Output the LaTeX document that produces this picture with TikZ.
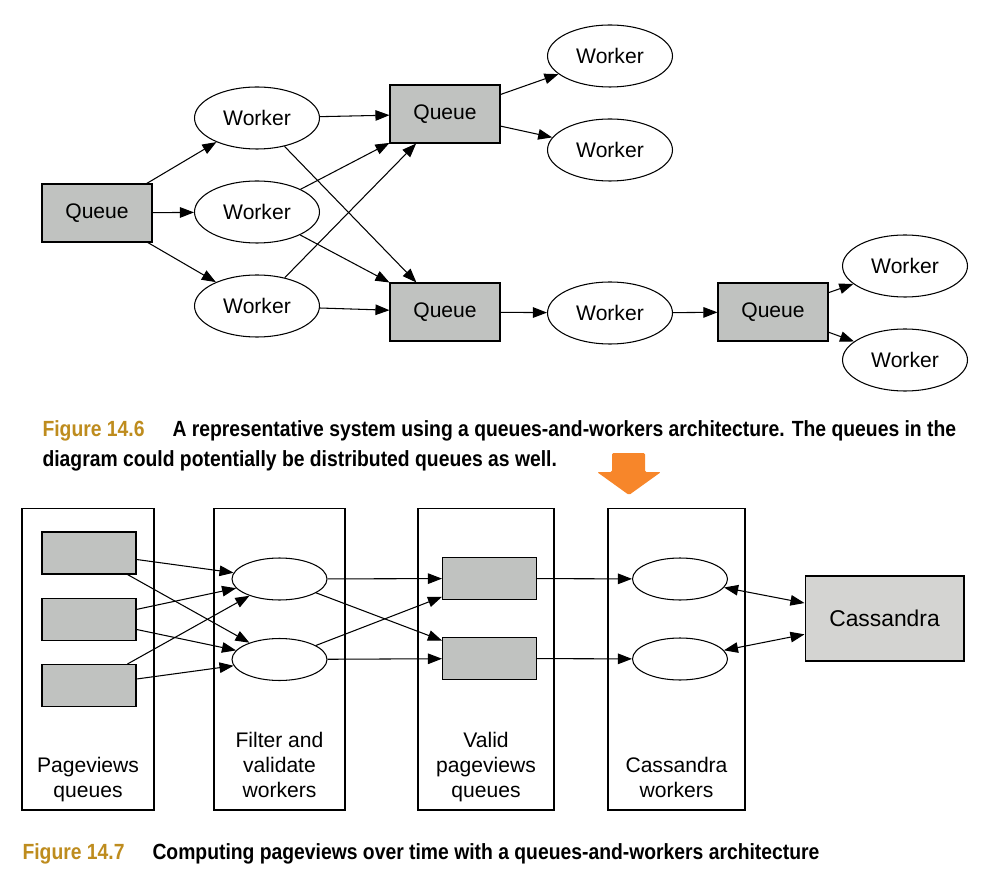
\documentclass[tikz,border=0pt]{standalone}
\usepackage{fontspec}
\setmainfont{Liberation Sans}
\newfontfamily\capfont[FakeStretch=0.88]{Liberation Sans}
\usetikzlibrary{arrows.meta,shapes.geometric}
\definecolor{queuegray}{RGB}{192,194,192}
\definecolor{storegray}{RGB}{212,212,210}
\definecolor{capgold}{RGB}{190,140,30}
\definecolor{hintorange}{RGB}{247,134,42}
\tikzset{
  queue/.style={draw, fill=queuegray, minimum width=2.2cm, minimum height=1.16cm, inner sep=0pt},
  worker/.style={draw, ellipse, minimum width=2.5cm, minimum height=1.24cm, inner sep=0pt},
  slot/.style={draw, fill=queuegray, minimum width=1.88cm, minimum height=0.84cm, inner sep=0pt},
  blob/.style={draw, ellipse, minimum width=1.9cm, minimum height=0.84cm, inner sep=0pt},
  stage/.style={draw, minimum height=6.04cm, inner sep=0pt},
  stagelabel/.style={anchor=south, align=center, inner sep=0pt, text depth=0pt},
  flow/.style={-{Triangle[length=8pt,width=6pt]}},
  sync/.style={{Triangle[length=8pt,width=6pt]}-{Triangle[length=8pt,width=6pt]}},
  capfig/.style={anchor=base west, inner sep=0pt, text=capgold, font=\capfont\bfseries\fontsize{12.5}{15}\selectfont},
  captext/.style={anchor=base west, inner sep=0pt, font=\capfont\bfseries\fontsize{12.5}{15}\selectfont}
}
\begin{document}
\begin{tikzpicture}[x=0.02cm, y=-0.02cm, line width=0.6pt,
  every node/.style={font=\fontsize{12}{14.2}\selectfont}]
  \useasboundingbox (0,0) rectangle (1000,874);

  % Figure 14.6: queues and workers
  \node[queue] (q0) at (97,213) {Queue};
  \node[worker] (w1) at (257,118) {Worker};
  \node[worker] (w2) at (257,212) {Worker};
  \node[worker] (w3) at (257,306) {Worker};
  \node[queue] (q1) at (445,114) {Queue};
  \node[queue] (q2) at (445,312) {Queue};
  \node[worker] (w4) at (610,56) {Worker};
  \node[worker] (w5) at (610,150) {Worker};
  \node[worker] (w6) at (610,313) {Worker};
  \node[queue] (q3) at (773,312) {Queue};
  \node[worker] (w7) at (905,266) {Worker};
  \node[worker] (w8) at (905,360) {Worker};

  % Connect them
  \foreach \w in {w1,w2,w3} {
    \draw[flow] (q0) -- (\w);
    \draw[flow] (\w) -- (q1);
    \draw[flow] (\w) -- (q2);
  }
  \draw[flow] (q1) -- (w4);
  \draw[flow] (q1) -- (w5);
  \draw[flow] (q2) -- (w6);
  \draw[flow] (w6) -- (q3);
  \draw[flow] (q3) -- (w7);
  \draw[flow] (q3) -- (w8);

  % Caption
  \node[capfig] (fig6) at (42,437) {Figure 14.6};
  \node[captext] (cap6a) at (172,437) {A representative system using a queues-and-workers architecture. The queues in the};
  \node[captext] (cap6b) at (42,466) {diagram could potentially be distributed queues as well.};

  % Orange hint arrow
  \fill[hintorange, rounded corners=0.8pt] (612,453) -- (645,453) -- (645,472) -- (661,472)
    -- (629,495) -- (597,472) -- (612,472) -- cycle;

  % Figure 14.7: stages
  \node[stage, minimum width=2.64cm] (pvstage) at (88,659) {};
  \node[stage, minimum width=2.62cm] (fvstage) at (279.5,659) {};
  \node[stage, minimum width=2.72cm] (vpstage) at (486,659) {};
  \node[stage, minimum width=2.74cm] (cwstage) at (676.5,659) {};
  \node[stagelabel] (pvlabel) at (88,798) {Pageviews\\queues};
  \node[stagelabel] (fvlabel) at (279.5,798) {Filter and\\validate\\workers};
  \node[stagelabel] (vplabel) at (486,798) {Valid\\pageviews\\queues};
  \node[stagelabel] (cwlabel) at (676.5,798) {Cassandra\\workers};

  % Elements inside the stages
  \node[slot] (r1) at (89,553) {};
  \node[slot] (r2) at (89,619.5) {};
  \node[slot] (r3) at (89,685.5) {};
  \node[blob] (f1) at (279.5,579) {};
  \node[blob] (f2) at (279.5,659.5) {};
  \node[slot] (v1) at (489.5,578.5) {};
  \node[slot] (v2) at (489.5,658.5) {};
  \node[blob] (c1) at (680,579) {};
  \node[blob] (c2) at (680,659) {};
  \node[draw, fill=storegray, minimum width=3.18cm, minimum height=1.7cm,
    font=\fontsize{13}{15}\selectfont] (cass) at (884.5,618.5) {Cassandra};

  % Connect them
  \foreach \r in {r1,r2,r3} {
    \draw[flow] (\r) -- (f1);
    \draw[flow] (\r) -- (f2);
  }
  \foreach \f in {f1,f2} {
    \draw[flow] (\f) -- (v1);
    \draw[flow] (\f) -- (v2);
  }
  \draw[flow] (v1) -- (c1);
  \draw[flow] (v2) -- (c2);
  \draw[sync] (c1) -- (cass);
  \draw[sync] (c2) -- (cass);

  % Caption
  \node[capfig] (fig7) at (22,859) {Figure 14.7};
  \node[captext] (cap7) at (152,859) {Computing pageviews over time with a queues-and-workers architecture};
\end{tikzpicture}
\end{document}
